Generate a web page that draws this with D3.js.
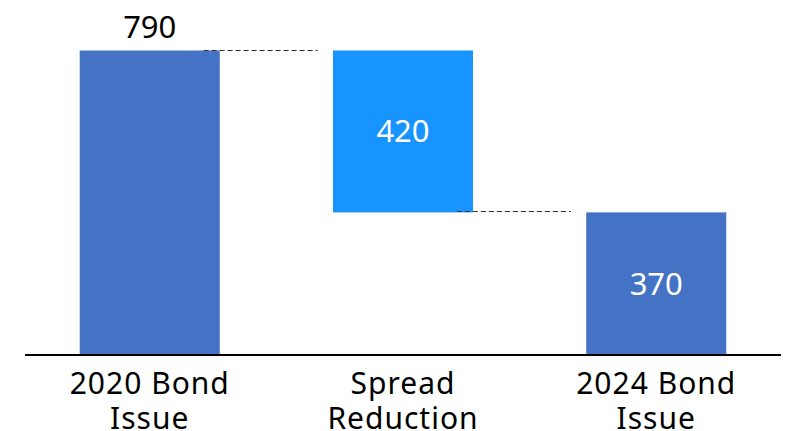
<!DOCTYPE html>
<html>
<head>
<meta charset="utf-8">
<script src="https://cdn.jsdelivr.net/npm/d3@7"></script>
<style>
  html, body { margin: 0; padding: 0; background: #ffffff; }
  svg { display: block; font-family: "Noto Sans", "Open Sans", sans-serif; }
</style>
</head>
<body>
<svg id="chart" width="790" height="431"></svg>
<script>
// Waterfall: starting spread, reduction, resulting spread
const categories = [["2020 Bond", "Issue"], ["Spread", "Reduction"], ["2024 Bond", "Issue"]];
const steps = [790, -420, 370];
const kinds = ["total", "delta", "total"];
const colors = { total: "#4472C4", delta: "#1794FF" };

// Derive floating bar extents from the step values
let running = 0;
const bars = steps.map((v, i) => {
  let lo, hi;
  if (kinds[i] === "total") { lo = 0; hi = v; running = v; }
  else { const next = running + v; lo = Math.min(running, next); hi = Math.max(running, next); running = next; }
  return { i, value: Math.abs(v), lo, hi, kind: kinds[i], end: running };
});

const svg = d3.select("#chart");
const axisY = 355;

const x = d3.scaleBand()
  .domain(d3.range(categories.length))
  .range([24, 782])
  .paddingInner(0.447)
  .paddingOuter(0.22);

const y = d3.scaleLinear().domain([0, 790]).range([axisY, 50.5]);

// Bars
svg.selectAll("rect.bar").data(bars).join("rect")
  .attr("class", "bar")
  .attr("x", d => x(d.i))
  .attr("width", x.bandwidth())
  .attr("y", d => y(d.hi))
  .attr("height", d => y(d.lo) - y(d.hi))
  .attr("fill", d => colors[d.kind]);

// Connector lines between consecutive bars
for (let k = 0; k < bars.length - 1; k++) {
  const level = bars[k].end;
  const x0 = x(k) + x.bandwidth() * 0.885;
  const x1 = x(k + 1) - x.bandwidth() * 0.11;
  const yy = Math.round(y(level)) - 0.5;
  svg.append("line")
    .attr("x1", x0).attr("x2", x1)
    .attr("y1", yy).attr("y2", yy)
    .attr("stroke", "#333").attr("stroke-width", 1)
    .attr("stroke-dasharray", "5,3");
}

// Value labels: first above the bar, the rest inside
svg.selectAll("text.val").data(bars).join("text")
  .attr("class", "val")
  .attr("x", d => x(d.i) + x.bandwidth() / 2)
  .attr("y", d => d.i === 0 ? y(d.hi) - 12.5 : (y(d.hi) + y(d.lo)) / 2 + 11)
  .attr("text-anchor", "middle")
  .attr("font-size", 31)
  .attr("fill", d => d.i === 0 ? "#000" : "#fff")
  .text(d => d.value);

// Baseline axis
const xAxis = d3.axisBottom(x).tickSize(0).tickFormat("");
const gx = svg.append("g").attr("transform", `translate(0,${axisY})`).call(xAxis);
gx.select(".domain").attr("stroke", "#000").attr("stroke-width", 2).attr("d", "M25,0H781");

// Category labels (two lines each)
const lab = svg.selectAll("text.cat").data(categories).join("text")
  .attr("class", "cat")
  .attr("text-anchor", "middle")
  .attr("font-size", 30)
  .attr("letter-spacing", 1)
  .attr("fill", "#000");
lab.selectAll("tspan").data((d, i) => d.map(s => ({ s, i }))).join("tspan")
  .attr("x", d => x(d.i) + x.bandwidth() / 2)
  .attr("y", (d, j) => 393.5 + j * 35)
  .text(d => d.s);
</script>
</body>
</html>
